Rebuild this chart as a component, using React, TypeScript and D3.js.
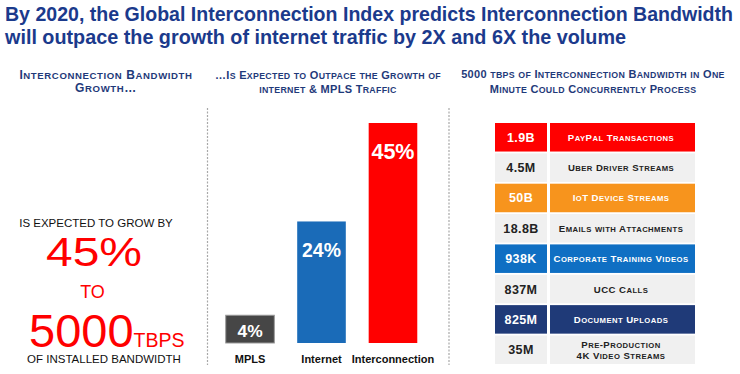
import React from "react";
import * as d3 from "d3";

const titleLines = [
  "By 2020, the Global Interconnection Index predicts Interconnection Bandwidth",
  "will outpace the growth of internet traffic by 2X and 6X the volume",
];

const headLeft = ["Interconnection Bandwidth", "Growth…"];
const headMid = ["…Is Expected to Outpace the Growth of", "internet & MPLS Traffic"];
const headRight = ["5000 tbps of Interconnection Bandwidth in One", "Minute Could Concurrently Process"];

const growthIntro = "IS EXPECTED TO GROW BY";
const growthPct = "45%";
const growthTo = "TO";
const growthTotal = "5000";
const growthUnit = "TBPS";
const growthOutro = "OF INSTALLED BANDWIDTH";

const barCategories = ["MPLS", "Internet", "Interconnection"];
const barValues = [4, 24, 45];
const barColors = ["#464646", "#1a6bb8", "#ff0000"];

const tableValues = ["1.9B", "4.5M", "50B", "18.8B", "938K", "837M", "825M", "35M"];
const tableLabels = [
  "PayPal Transactions",
  "Uber Driver Streams",
  "IoT Device Streams",
  "Emails with Attachments",
  "Corporate Training Videos",
  "UCC Calls",
  "Document Uploads",
  "Pre-Production\n4K Video Streams",
];
const tableColors = ["#ff0000", "#f0f0f0", "#f7941d", "#f0f0f0", "#0f6fc3", "#f0f0f0", "#1f3a78", "#f0f0f0"];

const NAVY = "#1f3a7a";
const RED = "#ff0000";
const FONT = "Arial, 'Liberation Sans', sans-serif";

// manual small caps: lowercase letters drawn as smaller capitals
function smallCaps(text: string, fs: number, ratio: number) {
  const runs: { s: string; small: boolean }[] = [];
  for (const ch of text) {
    const small = ch !== ch.toUpperCase();
    const last = runs[runs.length - 1];
    if (last && last.small === small) last.s += small ? ch.toUpperCase() : ch;
    else runs.push({ s: small ? ch.toUpperCase() : ch, small });
  }
  return runs.map((r, i) => (
    <tspan key={i} fontSize={r.small ? fs * ratio : fs}>{r.s}</tspan>
  ));
}

export default function App() {
  const W = 740;
  const H = 374;

  const x = d3.scaleBand<string>().domain(barCategories).range([215, 428]).paddingInner(0.32).paddingOuter(0.15);
  const y = d3.scaleLinear().domain([0, 45]).range([334, 123]);
  const barBottom = 343;

  const rowIdx = tableValues.map((_, i) => String(i));
  const ry = d3.scaleBand<string>().domain(rowIdx).range([123, 364]).paddingInner(0.06);
  const valX0 = 495, valX1 = 547, labX0 = 550, labX1 = 695;

  const heading = (lines: string[], cx: number, y0: number, y1: number, fs: number, ls: number) => (
    <text textAnchor="middle" fontFamily={FONT} fontWeight="bold" fill={NAVY} letterSpacing={ls}>
      <tspan x={cx} y={y0}>{smallCaps(lines[0], fs, 0.8)}</tspan>
      <tspan x={cx} y={y1}>{smallCaps(lines[1], fs, 0.8)}</tspan>
    </text>
  );

  return (
    <svg width={W} height={H} style={{ position: "absolute", left: 0, top: 0, background: "#fff" }} fontFamily={FONT}>
      <text fontWeight="bold" fontSize={19.8} fill="#1b3a8c">
        <tspan x={5} y={21} textLength={728} lengthAdjust="spacingAndGlyphs">{titleLines[0]}</tspan>
        <tspan x={5} y={44}>{titleLines[1]}</tspan>
      </text>

      {heading(headLeft, 106, 79, 92, 12, 0.6)}
      {heading(headMid, 328, 79, 93, 11, 0.3)}
      {heading(headRight, 593, 78, 93, 11, 0.3)}

      {[207.5, 449].map((dx) => (
        <line key={dx} x1={dx} x2={dx} y1={108} y2={365} stroke="#a8a8a8" strokeWidth={1.2} strokeDasharray="2,1.5" />
      ))}

      <text x={96} y={227} textAnchor="middle" fontSize={11.5} fill="#111">{growthIntro}</text>
      <text x={46} y={266} fontSize={40} fill={RED} textLength={96} lengthAdjust="spacingAndGlyphs">{growthPct}</text>
      <text x={92.5} y={298} textAnchor="middle" fontSize={18} fill={RED}>{growthTo}</text>
      <text x={29} y={346.5} fontSize={47} fill={RED}>
        {growthTotal}
        <tspan fontSize={19.5}>{growthUnit}</tspan>
      </text>
      <text x={104} y={362.5} textAnchor="middle" fontSize={11.5} fill="#111">{growthOutro}</text>

      {barCategories.map((c, i) => {
        const v = barValues[i];
        const bx = x(c)!;
        const bw = x.bandwidth();
        const top = y(v);
        const fs = 17 + v / 10;
        return (
          <g key={c}>
            <rect x={bx} y={top} width={bw} height={barBottom - top} fill={barColors[i]}
              stroke={i === 0 ? "#9a9a9a" : "none"} strokeWidth={1} />
            <text x={bx + bw / 2} y={Math.min(top + 36, barBottom - 6)} textAnchor="middle" fontWeight="bold" fontSize={fs} fill="#fff">
              {v}%
            </text>
            <text x={bx + bw / 2} y={363} textAnchor="middle" fontWeight="bold" fontSize={11} fill="#111">{c}</text>
          </g>
        );
      })}

      {rowIdx.map((k, i) => {
        const ty = ry(k)!;
        const th = ry.bandwidth();
        const col = tableColors[i];
        const light = col === "#f0f0f0";
        const tc = light ? "#222" : "#fff";
        const lines = tableLabels[i].split("\n");
        const cy = ty + th / 2;
        const lx = (labX0 + labX1) / 2 - 1.5;
        return (
          <g key={k}>
            <rect x={valX0} y={ty} width={valX1 - valX0} height={th} fill={col} />
            <rect x={labX0} y={ty} width={labX1 - labX0} height={th} fill={col} />
            <text x={(valX0 + valX1) / 2} y={cy + 4.5} textAnchor="middle" fontWeight="bold" fontSize={12.5} letterSpacing={0.4} fill={tc}>
              {tableValues[i]}
            </text>
            <text textAnchor="middle" fontWeight="bold" letterSpacing={0.45} fill={tc}>
              {lines.map((ln, j) => (
                <tspan key={j} x={lx} y={cy + 3.5 + (j - (lines.length - 1) / 2) * 11}>{smallCaps(ln, 9.6, 0.8)}</tspan>
              ))}
            </text>
          </g>
        );
      })}
    </svg>
  );
}
